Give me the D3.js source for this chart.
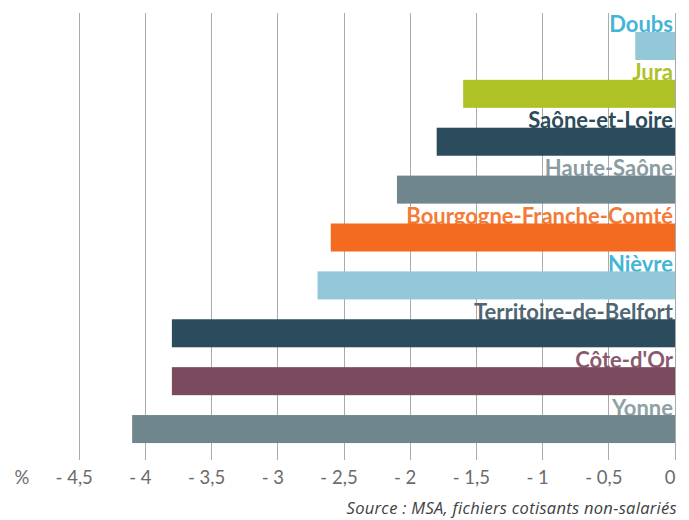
<!DOCTYPE html>
<html>
<head>
<meta charset="utf-8">
<script src="https://cdn.jsdelivr.net/npm/d3@7"></script>
<style>
  html, body { margin: 0; padding: 0; background: #fff; }
  svg { display: block; }
</style>
</head>
<body>
<svg id="chart" width="689" height="520"></svg>
<script>
const categories = ["Doubs", "Jura", "Saône-et-Loire", "Haute-Saône", "Bourgogne-Franche-Comté", "Nièvre", "Territoire-de-Belfort", "Côte-d'Or", "Yonne"];
const values = [-0.3, -1.6, -1.8, -2.1, -2.6, -2.7, -3.8, -3.8, -4.1];
const barColors = ["#92c8d8", "#aec226", "#2b4c5c", "#6f868c", "#f26b21", "#92c8d8", "#2b4c5c", "#7a4a5e", "#6f868c"];
const labelColors = ["#45b5d6", "#aec226", "#2b4c5c", "#8a9ca1", "#f47a36", "#45b5d6", "#4f6673", "#8a5b6e", "#8fa1a6"];
const tickValues = [-4.5, -4, -3.5, -3, -2.5, -2, -1.5, -1, -0.5, 0];
const axisUnit = "%";
const sourceText = "Source : MSA, fichiers cotisants non-salariés";

const svg = d3.select("#chart");
const x = d3.scaleLinear().domain([-5, 0]).range([13, 675]);
const y = d3.scaleBand().domain(categories).range([22, 453]).paddingInner(0.415).paddingOuter(0.2075);

const fmt = v => v === 0 ? "0" : "- " + String(Math.abs(v)).replace(".", ",");

// gridlines
svg.append("g").selectAll("line").data(tickValues).join("line")
  .attr("x1", d => x(d)).attr("x2", d => x(d))
  .attr("y1", 13).attr("y2", 460)
  .attr("stroke", "#ababab").attr("stroke-width", 1)
  .attr("shape-rendering", "crispEdges");

const data = categories.map((c, i) => ({ c, v: values[i], bar: barColors[i], lab: labelColors[i] }));

// labels (under bars)
svg.append("g").selectAll("text").data(data).join("text")
  .attr("x", 673)
  .attr("y", d => y(d.c) + 0.5)
  .attr("text-anchor", "end")
  .attr("font-family", "Lato, 'Open Sans', sans-serif")
  .attr("font-weight", "bold")
  .attr("font-size", 22)
  .attr("fill", d => d.lab)
  .text(d => d.c);

// bars
svg.append("g").selectAll("rect").data(data).join("rect")
  .attr("x", d => x(d.v))
  .attr("y", d => y(d.c))
  .attr("width", d => x(0) - x(d.v))
  .attr("height", y.bandwidth())
  .attr("fill", d => d.bar);

// tick labels
svg.append("g").selectAll("text").data(tickValues).join("text")
  .attr("x", d => x(d) - 5)
  .attr("y", 484)
  .attr("text-anchor", "middle")
  .attr("font-family", "Lato, 'Open Sans', sans-serif")
  .attr("font-size", 18.5)
  .attr("fill", "#6b6b6b")
  .text(fmt);

svg.append("text")
  .attr("x", 22).attr("y", 484)
  .attr("text-anchor", "middle")
  .attr("font-family", "Lato, 'Open Sans', sans-serif")
  .attr("font-size", 18.5)
  .attr("fill", "#6b6b6b")
  .text(axisUnit);

svg.append("text")
  .attr("x", 677).attr("y", 514)
  .attr("text-anchor", "end")
  .attr("font-family", "'Open Sans', sans-serif")
  .attr("font-style", "italic")
  .attr("font-size", 16.5)
  .attr("letter-spacing", 0.3)
  .attr("fill", "#404040")
  .text(sourceText);
</script>
</body>
</html>
